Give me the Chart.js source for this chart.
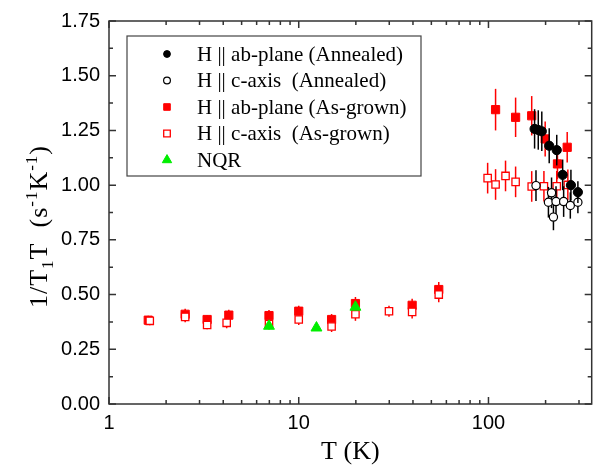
<!DOCTYPE html>
<html>
<head>
<meta charset="utf-8">
<script src="https://cdn.jsdelivr.net/npm/chart.js@4.4.1/dist/chart.umd.min.js"></script>
<style>
  html, body { margin: 0; padding: 0; background: #fff; }
  #wrap { width: 599px; height: 466px; }
</style>
</head>
<body>
<div id="wrap"><canvas id="t1Chart"></canvas></div>
<script>
// H || ab-plane, annealed sample
const tAbAnn = [175, 183, 191, 209, 229, 246, 272, 296];
const rAbAnn = [1.257, 1.252, 1.246, 1.18, 1.16, 1.047, 1.0, 0.968];
const eAbAnn = [0.09, 0.09, 0.09, 0.08, 0.07, 0.07, 0.07, 0.05];

// H || c-axis, annealed sample
const tCAnn = [178, 207, 215, 220, 227, 249, 270, 296];
const rCAnn = [0.998, 0.922, 0.965, 0.854, 0.925, 0.925, 0.907, 0.922];
const eCAnn = [0.07, 0.07, 0.07, 0.06, 0.07, 0.07, 0.06, 0.05];

// H || ab-plane, as-grown sample
const tAbGrown = [1.61, 2.52, 3.29, 4.28, 6.97, 10.0, 14.9, 19.9, 39.6, 54.7, 109, 139, 169, 199, 231, 260];
const rAbGrown = [0.383, 0.41, 0.386, 0.406, 0.404, 0.424, 0.386, 0.459, 0.451, 0.523, 1.345, 1.31, 1.317, 1.211, 1.097, 1.173];
const eAbGrown = [0.02, 0.025, 0.02, 0.025, 0.025, 0.025, 0.025, 0.03, 0.03, 0.035, 0.095, 0.09, 0.09, 0.08, 0.07, 0.07];

// H || c-axis, as-grown sample
const tCGrown = [1.64, 2.52, 3.29, 4.17, 6.97, 10.0, 14.9, 19.9, 29.9, 39.6, 54.7, 99, 109, 123, 139, 169, 196, 229, 262];
const rCGrown = [0.38, 0.398, 0.361, 0.371, 0.365, 0.386, 0.354, 0.41, 0.424, 0.421, 0.50, 1.032, 1.003, 1.042, 1.015, 0.994, 0.995, 0.995, 1.001];
const eCGrown = [0.02, 0.025, 0.02, 0.025, 0.025, 0.025, 0.025, 0.03, 0.025, 0.03, 0.035, 0.07, 0.07, 0.07, 0.07, 0.07, 0.07, 0.07, 0.07];

// zero-field NQR
const tNqr = [6.97, 12.4, 19.9];
const rNqr = [0.356, 0.348, 0.443];

const xTickLabels = [1, 10, 100];
const yTickStep = 0.25;

function pts(ts, rs) {
  return ts.map((t, i) => ({ x: t, y: rs[i] }));
}

const RED = '#ff0000';
const GREEN = '#00ee00';
const SERIF = '"Liberation Serif", "Times New Roman", serif';

// vertical error bars, drawn just before each dataset so markers sit on top
const errorBars = {
  id: 'errorBars',
  beforeDatasetDraw(chart, args) {
    const ds = chart.data.datasets[args.index];
    if (!ds.errors) return;
    const { ctx, scales: { x, y } } = chart;
    ctx.save();
    ctx.strokeStyle = ds.errorColor;
    ctx.lineWidth = 1.5;
    ds.data.forEach((p, i) => {
      const px = x.getPixelForValue(p.x);
      ctx.beginPath();
      ctx.moveTo(px, y.getPixelForValue(p.y - ds.errors[i]));
      ctx.lineTo(px, y.getPixelForValue(p.y + ds.errors[i]));
      ctx.stroke();
    });
    ctx.restore();
  }
};

// closed frame with inward ticks on all four sides
const frameTicks = {
  id: 'frameTicks',
  afterDraw(chart) {
    const { ctx, chartArea: a, scales: { x, y } } = chart;
    ctx.save();
    ctx.strokeStyle = '#333';
    ctx.lineWidth = 1.5;
    ctx.strokeRect(a.left, a.top, a.right - a.left, a.bottom - a.top);
    ctx.beginPath();
    for (let d = 1; d <= 100; d *= 10) {
      for (let m = 1; m <= 9; m++) {
        const v = d * m;
        if (v > x.max) break;
        const px = x.getPixelForValue(v);
        const len = m === 1 ? 7 : 4;
        ctx.moveTo(px, a.bottom); ctx.lineTo(px, a.bottom - len);
        ctx.moveTo(px, a.top); ctx.lineTo(px, a.top + len);
      }
    }
    for (let v = 0; v <= y.max + 1e-9; v += yTickStep / 2) {
      const py = y.getPixelForValue(v);
      const major = Math.abs(v / yTickStep - Math.round(v / yTickStep)) < 1e-6;
      const len = major ? 7 : 4;
      ctx.moveTo(a.left, py); ctx.lineTo(a.left + len, py);
      ctx.moveTo(a.right, py); ctx.lineTo(a.right - len, py);
    }
    ctx.stroke();
    ctx.restore();
  }
};

// rotated y title with real sub/superscripts: 1/T1T (s-1K-1)
const yTitle = {
  id: 'yTitle',
  afterDraw(chart) {
    const ctx = chart.ctx;
    const parts = [
      ['1/T', 0, 26],
      ['1', 6, 17],
      ['T  (s', 0, 26],
      ['-1', -10, 17],
      ['K', 0, 26],
      ['-1', -10, 17],
      [')', 0, 26]
    ];
    ctx.save();
    ctx.translate(47, 308);
    ctx.rotate(-Math.PI / 2);
    ctx.fillStyle = '#000';
    ctx.textBaseline = 'alphabetic';
    ctx.textAlign = 'left';
    ctx.letterSpacing = '1px';
    let pos = 0;
    parts.forEach(([txt, shift, size]) => {
      ctx.font = size + 'px ' + SERIF;
      ctx.fillText(txt, pos, shift);
      pos += ctx.measureText(txt).width;
    });
    ctx.restore();
  }
};

// boxed legend inside the plot area
const boxLegend = {
  id: 'boxLegend',
  afterDatasetsDraw(chart) {
    const { ctx, chartArea: a } = chart;
    const left = a.left + 18, top = a.top + 15;
    const w = 294, h = 140;
    ctx.save();
    ctx.fillStyle = '#fff';
    ctx.fillRect(left, top, w, h);
    ctx.strokeStyle = '#444';
    ctx.lineWidth = 1.2;
    ctx.strokeRect(left, top, w, h);
    [0, 1, 2, 3, 4].forEach((row) => {
      const ds = chart.data.datasets.find(d => d.legendRow === row);
      const cy = top + 18 + row * 26.5;
      const cx = left + 40;
      ctx.fillStyle = ds.backgroundColor;
      ctx.strokeStyle = ds.borderColor;
      ctx.lineWidth = ds.borderWidth;
      ctx.beginPath();
      if (ds.pointStyle === 'circle') {
        ctx.arc(cx, cy, 3.4, 0, Math.PI * 2);
      } else if (ds.pointStyle === 'rect') {
        ctx.rect(cx - 3.3, cy - 3.3, 6.6, 6.6);
      } else {
        const r = 5.4;
        ctx.moveTo(cx, cy - r);
        ctx.lineTo(cx + r * 0.866, cy + r / 2);
        ctx.lineTo(cx - r * 0.866, cy + r / 2);
        ctx.closePath();
      }
      ctx.fill();
      ctx.stroke();
      ctx.fillStyle = '#000';
      ctx.font = '21px ' + SERIF;
      ctx.textBaseline = 'middle';
      ctx.textAlign = 'left';
      ctx.fillText(ds.label, left + 70, cy + 1);
    });
    ctx.restore();
  }
};

new Chart(document.getElementById('t1Chart'), {
  type: 'scatter',
  data: {
    datasets: [
      {
        label: 'NQR',
        legendRow: 4,
        data: pts(tNqr, rNqr),
        pointStyle: 'triangle',
        pointRadius: 6.3,
        backgroundColor: GREEN,
        borderColor: GREEN,
        borderWidth: 1,
        order: 0
      },
      {
        label: 'H || ab-plane (Annealed)',
        legendRow: 0,
        data: pts(tAbAnn, rAbAnn),
        errors: eAbAnn,
        errorColor: '#000',
        pointStyle: 'circle',
        pointRadius: 4.6,
        backgroundColor: '#000',
        borderColor: '#000',
        borderWidth: 1,
        order: 1
      },
      {
        label: 'H || c-axis  (Annealed)',
        legendRow: 1,
        data: pts(tCAnn, rCAnn),
        errors: eCAnn,
        errorColor: '#000',
        pointStyle: 'circle',
        pointRadius: 4.1,
        backgroundColor: '#fff',
        borderColor: '#000',
        borderWidth: 1.2,
        order: 2
      },
      {
        label: 'H || c-axis  (As-grown)',
        legendRow: 3,
        data: pts(tCGrown, rCGrown),
        errors: eCGrown,
        errorColor: RED,
        pointStyle: 'rect',
        pointRadius: 5.2,
        backgroundColor: '#fff',
        borderColor: RED,
        borderWidth: 1.3,
        order: 3
      },
      {
        label: 'H || ab-plane (As-grown)',
        legendRow: 2,
        data: pts(tAbGrown, rAbGrown),
        errors: eAbGrown,
        errorColor: RED,
        pointStyle: 'rect',
        pointRadius: 5.8,
        backgroundColor: RED,
        borderColor: RED,
        borderWidth: 1,
        order: 4
      }
    ]
  },
  options: {
    responsive: true,
    maintainAspectRatio: false,
    animation: false,
    layout: { padding: { top: 20, right: 7, left: 0, bottom: 0 } },
    plugins: {
      legend: { display: false },
      tooltip: { enabled: false }
    },
    scales: {
      x: {
        type: 'logarithmic',
        min: 1,
        max: 350,
        grid: { display: false, drawTicks: false },
        border: { display: false },
        afterBuildTicks: (scale) => {
          scale.ticks = xTickLabels.map(v => ({ value: v }));
        },
        afterFit: (scale) => { scale.height = 62; },
        ticks: {
          color: '#000',
          padding: 7,
          maxRotation: 0,
          autoSkip: false,
          font: { family: '"Liberation Sans", Arial, sans-serif', size: 20 },
          callback: (v) => String(v)
        },
        title: {
          display: true,
          text: 'T (K)',
          color: '#000',
          padding: { top: 0, bottom: 1 },
          font: { family: SERIF, size: 26, lineHeight: 1 }
        }
      },
      y: {
        min: 0,
        max: 1.75,
        grid: { display: false, drawTicks: false },
        border: { display: false },
        afterFit: (scale) => { scale.width = 109; },
        ticks: {
          stepSize: yTickStep,
          color: '#000',
          padding: 9,
          font: { family: '"Liberation Sans", Arial, sans-serif', size: 20 },
          callback: (v) => v.toFixed(2)
        },
        title: { display: false }
      }
    }
  },
  plugins: [errorBars, frameTicks, yTitle, boxLegend]
});
</script>
</body>
</html>
